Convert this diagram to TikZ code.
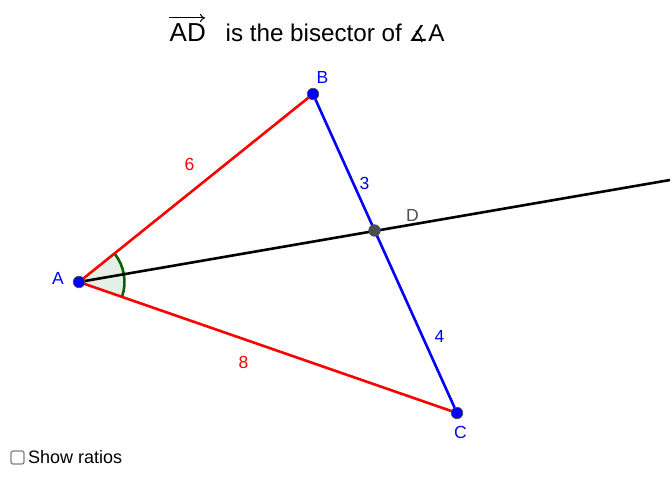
\documentclass[tikz,border=0pt]{standalone}
\usepackage{fontspec}
\setmainfont{Liberation Sans}
\newfontfamily\symfont{DejaVu Sans}
\usetikzlibrary{arrows.meta}
\definecolor{pointgray}{HTML}{4D4D4D}
\definecolor{arcgreen}{HTML}{006400}
\definecolor{arcfill}{HTML}{E5EFE5}
\tikzset{
    ptnode/.style={circle,draw=pointgray,line width=0.7pt,inner sep=0pt,minimum size=11.5pt},
    seglabel/.style={inner sep=0pt,font=\fontsize{17.5}{18}\selectfont},
    titletext/.style={inner sep=0pt,anchor=base west,font=\fontsize{24.2}{25}\selectfont},
}

\begin{document}
\begin{tikzpicture}[x=1pt,y=-1pt]
    \useasboundingbox (0,0) rectangle (672,486);
    \coordinate (A) at (79,282);
    \coordinate (B) at (313,94);
    \coordinate (C) at (457,413);
    \coordinate (D) at (374.5,230.5);
    \coordinate (rayend) at (670,180);
    \coordinate (vecstart) at (169,18);
    \coordinate (vecend) at (205,18);

    \fill[arcfill] (A) -- ++(-38.8:45.5) arc[start angle=-38.8,end angle=19.1,radius=45.5] -- cycle;
    \draw[arcgreen,line width=2.6pt] (A) ++(-38.8:45.5) arc[start angle=-38.8,end angle=19.1,radius=45.5];

    \draw[red,line width=2.6pt]  (A) -- (B);
    \draw[red,line width=2.6pt]  (A) -- (C);
    \draw[blue,line width=2.6pt] (B) -- (C);
    \draw[black,line width=2.6pt] (A) -- (rayend);

    \node[ptnode,fill=blue] (ptA) at (A) {};
    \node[ptnode,fill=blue] (ptB) at (B) {};
    \node[ptnode,fill=blue] (ptC) at (C) {};
    \node[ptnode,fill=pointgray] (ptD) at (D) {};

    \node[seglabel,blue] (lblA) at (58,278.5) {A};
    \node[seglabel,blue] (lblB) at (322.5,77.5) {B};
    \node[seglabel,blue] (lblC) at (460.5,432.5) {C};
    \node[seglabel,pointgray] (lblD) at (412.5,215.5) {D};

    \node[seglabel,red] (lblsix) at (189.5,164.5) {6};
    \node[seglabel,red] (lbleight) at (243.5,362.5) {8};
    \node[seglabel,blue] (lblthree) at (364.5,183.5) {3};
    \node[seglabel,blue] (lblfour) at (439.5,336.5) {4};

    \draw[-{To[length=5pt,width=8pt]},line width=1pt] (vecstart) -- (vecend);
    \node[titletext,font=\fontsize{26}{26}\selectfont] (titlevec) at (169.5,42) {AD};
    \node[titletext] (titlerest) at (225.5,41.5) {is the bisector of {\symfont\fontsize{22}{22}\selectfont ∡}A};

    \node[draw=gray,rounded corners=2pt,line width=1.2pt,minimum size=13pt,inner sep=0pt] (ratiobox) at (17.5,457.5) {};
    \node[inner sep=0pt,anchor=base west,font=\fontsize{18}{18}\selectfont] (ratiotext) at (28,463.5) {Show ratios};
\end{tikzpicture}
\end{document}
